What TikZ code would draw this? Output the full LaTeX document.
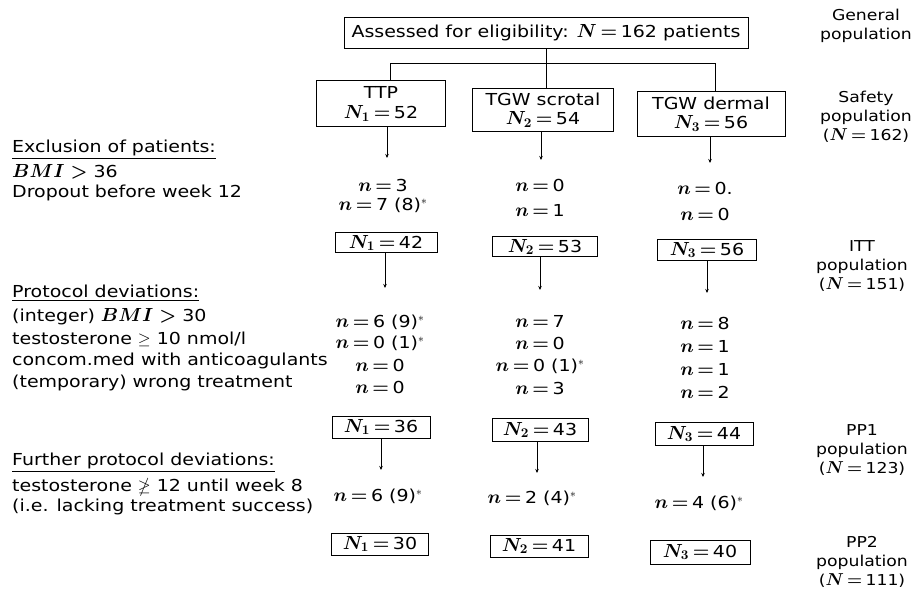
\RequirePackage{fix-cm}
\documentclass[tikz,border=0pt]{standalone}
\usepackage{graphicx}
\usepackage{amssymb}
\usepackage{fontspec}
\setmainfont[FakeStretch=1.15]{DejaVu Sans}
\usetikzlibrary{arrows.meta}
\newcommand{\mth}[1]{\scalebox{1.15}{\boldmath$#1$}}
\newcommand{\myeq}[2]{\mth{#1\mskip3mu{=}\mskip3mu}#2}
\begin{document}
\begin{tikzpicture}[x=1pt,y=-1pt,
  every node/.style={font=\fontsize{16.5}{19.5}\selectfont, inner sep=0pt},
  bx/.style={draw, line width=1pt, align=center},
  lbl/.style={anchor=west},
  pop/.style={align=center, font=\fontsize{15}{19}\selectfont},
  ln/.style={line width=1pt},
  arr/.style={line width=1pt, -{Stealth[length=4pt,width=3.5pt]}}]
\useasboundingbox (0,0) rectangle (919,596);

% top
\node[bx, minimum width=404, minimum height=31] (top) at (546,33) {Assessed for eligibility: \myeq{N}{162} patients};
\node[pop] (gen) at (866,26) {General\\population};

% treatment groups
\node[bx, minimum width=129, minimum height=46] (ttp) at (381,104) {TTP\\\myeq{N_1}{52}};
\node[bx, minimum width=141, minimum height=43] (scr) at (543,110) {TGW scrotal\\\myeq{N_2}{54}};
\node[bx, minimum width=148, minimum height=45] (derm) at (711,114) {TGW dermal\\\myeq{N_3}{56}};
\node[pop] (saf) at (866,117) {Safety\\population\\(\myeq{N}{162})};

\coordinate (b1) at (390,64);
\coordinate (b2) at (546,64);
\coordinate (b3) at (715,64);
\draw[ln] (top.south) -- (b2 |- scr.north);
\draw[ln] (b1 |- ttp.north) |- (b3) -- (b3 |- derm.north);

\coordinate (a1) at (387,158);
\coordinate (a2) at (541,160);
\coordinate (a3) at (710,163);
\draw[arr] (a1 |- ttp.south) -- (a1);
\draw[arr] (a2 |- scr.south) -- (a2);
\draw[arr] (a3 |- derm.south) -- (a3);

% exclusion
\node[lbl] (excl) at (12,150) {\underline{Exclusion of patients:}};
\node[lbl] (bmi36) at (12,172) {\mth{BMI>{}}36};
\node[lbl] (drop) at (12,193) {Dropout before week 12};

\node (e11) at (383,185) {\myeq{n}{3}};
\node (e12) at (383,205) {\myeq{n}{7 (8)$^*$}};
\node (e21) at (540,185) {\myeq{n}{0}};
\node (e22) at (540,210) {\myeq{n}{1}};
\node (e31) at (705,188) {\myeq{n}{0.}};
\node (e32) at (705,214) {\myeq{n}{0}};

% ITT
\node[bx, minimum width=102, minimum height=20] (i1) at (386,243) {\myeq{N_1}{42}};
\node[bx, minimum width=105, minimum height=20] (i2) at (545,247) {\myeq{N_2}{53}};
\node[bx, minimum width=99, minimum height=21] (i3) at (707,250) {\myeq{N_3}{56}};
\node[pop] (itt) at (862,266) {ITT\\population\\(\myeq{N}{151})};

\coordinate (c1) at (385,288);
\coordinate (c2) at (540,290);
\coordinate (c3) at (707,293);
\draw[arr] (c1 |- i1.south) -- (c1);
\draw[arr] (c2 |- i2.south) -- (c2);
\draw[arr] (c3 |- i3.south) -- (c3);

% protocol deviations
\node[lbl] (prot) at (12,293) {\underline{Protocol deviations:}};
\node[lbl] (int) at (12,317) {(integer) \mth{BMI>{}}30};
\node[lbl] (tes) at (12,339) {testosterone $\geq$ 10 nmol/l};
\node[lbl] (con) at (12,361) {concom.med with anticoagulants};
\node[lbl] (tmp) at (12,383) {(temporary) wrong treatment};

\node (p11) at (380,322) {\myeq{n}{6 (9)$^*$}};
\node (p12) at (380,343) {\myeq{n}{0 (1)$^*$}};
\node (p13) at (380,365) {\myeq{n}{0}};
\node (p14) at (380,387) {\myeq{n}{0}};
\node (p21) at (540,321) {\myeq{n}{7}};
\node (p22) at (540,343) {\myeq{n}{0}};
\node (p23) at (540,366) {\myeq{n}{0 (1)$^*$}};
\node (p24) at (540,388) {\myeq{n}{3}};
\node (p31) at (705,323) {\myeq{n}{8}};
\node (p32) at (705,346) {\myeq{n}{1}};
\node (p33) at (705,369) {\myeq{n}{1}};
\node (p34) at (705,392) {\myeq{n}{2}};

% PP1
\node[bx, minimum width=98, minimum height=22] (q1) at (381,427) {\myeq{N_1}{36}};
\node[bx, minimum width=96, minimum height=23] (q2) at (540,430) {\myeq{N_2}{43}};
\node[bx, minimum width=98, minimum height=23] (q3) at (704,434) {\myeq{N_3}{44}};
\node[pop] (pp1) at (862,450) {PP1\\population\\(\myeq{N}{123})};

\coordinate (d1) at (381,470);
\coordinate (d2) at (537,473);
\coordinate (d3) at (703,477);
\draw[arr] (d1 |- q1.south) -- (d1);
\draw[arr] (d2 |- q2.south) -- (d2);
\draw[arr] (d3 |- q3.south) -- (d3);

% further deviations
\node[lbl] (fur) at (12,463) {\underline{Further protocol deviations:}};
\node[lbl] (t12) at (12,487) {testosterone $\ngeq$ 12 until week 8};
\node[lbl] (ie) at (12,507) {(i.e. lacking treatment success)};

\node (f1) at (378,496) {\myeq{n}{6 (9)$^*$}};
\node (f2) at (532,498) {\myeq{n}{2 (4)$^*$}};
\node (f3) at (699,503) {\myeq{n}{4 (6)$^*$}};

% PP2
\node[bx, minimum width=97, minimum height=22] (r1) at (380,544) {\myeq{N_1}{30}};
\node[bx, minimum width=98, minimum height=22] (r2) at (539,546) {\myeq{N_2}{41}};
\node[bx, minimum width=100, minimum height=24] (r3) at (700,552) {\myeq{N_3}{40}};
\node[pop] (pp2) at (862,562) {PP2\\population\\(\myeq{N}{111})};
\end{tikzpicture}
\end{document}
